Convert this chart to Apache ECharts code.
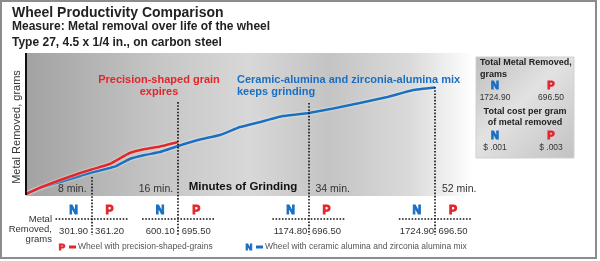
<!DOCTYPE html>
<html>
<head>
<meta charset="utf-8">
<script src="https://cdn.jsdelivr.net/npm/echarts@6/dist/echarts.min.js"></script>
<style>
html, body { margin: 0; padding: 0; background: #fff; }
#main { width: 600px; height: 261px; }
</style>
</head>
<body>
<div id="main"></div>
<script>
// positions along the grinding run (chart steps) and grams removed
var stepN = [0, 1.5, 3.6, 5.7, 6.9, 8.8, 9.4, 10.9, 12.5, 14.1, 16, 18.3, 20.4, 22.5, 24.6, 27, 29.7, 32.3, 35.1, 38, 40.7, 43];
var gramsN = [0, 98, 196, 294, 351, 424, 449, 571, 636, 685, 783, 889, 962, 1093, 1174, 1272, 1321, 1394, 1484, 1582, 1696, 1737];
var stepP = [0, 1.5, 3.6, 5.7, 6.9, 8.8, 10.9, 12.5, 14.1, 16];
var gramsP = [0, 106, 228, 343, 400, 489, 669, 734, 775, 848];

// checkpoints
var markStep = [6.9, 16, 29.7, 43];
var markLabel = ['8 min.', '16 min.', '34 min.', '52 min.'];
var markTop = [277, 1500, 1484, 1745];
var tableN = ['301.90', '600.10', '1174.80', '1724.90'];
var tableP = ['361.20', '695.50', '696.50', '696.50'];

// summary box
var totalN = '1724.90', totalP = '696.50';
var costN = '$ .001', costP = '$ .003';

var BLUE = '#1b6fc2';
var RED = '#e1262c';
var TXT = '#333';

var chart = echarts.init(document.getElementById('main'));

function pairs(xs, ys) {
    return xs.map(function (x, i) { return [x, ys[i]]; });
}

var dotted = { color: '#111', width: 1.6, type: [1.6, 1.6] };
var markLines = [
    [{ coord: [0, -16], lineStyle: { color: '#111', width: 2, type: 'solid' } }, { coord: [0, 2300] }]
];
markStep.forEach(function (s, i) {
    markLines.push([{ coord: [s, markTop[i]], lineStyle: dotted }, { coord: [s, -669] }]);
    markLines.push([{ coord: [s - 3.8, -408], lineStyle: dotted }, { coord: [s + 3.8, -408] }]);
});

var option = {
    animation: false,
    grid: { left: 26, top: 53, width: 447, height: 182 },
    xAxis: { type: 'value', min: 0, max: 47, show: false },
    yAxis: { type: 'value', min: -669, max: 2300, show: false },
    series: [
        {
            name: 'N',
            type: 'line',
            data: pairs(stepN, gramsN),
            smooth: 0.1,
            showSymbol: false,
            z: 3,
            lineStyle: { color: BLUE, width: 2.5, shadowColor: 'rgba(255,255,235,0.95)', shadowBlur: 2 },
            markArea: {
                silent: true,
                data: [[
                    {
                        coord: [0, -33],
                        itemStyle: {
                            color: {
                                type: 'linear', x: 0, y: 0, x2: 1, y2: 0,
                                colorStops: [
                                    { offset: 0, color: '#a2a2a2' },
                                    { offset: 0.3, color: '#c6c6c6' },
                                    { offset: 0.5, color: '#d8d8d8' },
                                    { offset: 0.68, color: '#c4c4c4' },
                                    { offset: 0.86, color: '#dadada' },
                                    { offset: 0.94, color: '#efefef' },
                                    { offset: 1, color: '#ffffff' }
                                ]
                            }
                        }
                    },
                    { coord: [47, 2300] }
                ]]
            },
            markLine: {
                silent: true,
                symbol: 'none',
                label: { show: false },
                data: markLines
            }
        },
        {
            name: 'P',
            type: 'line',
            data: pairs(stepP, gramsP),
            smooth: 0.1,
            showSymbol: false,
            z: 4,
            lineStyle: { color: RED, width: 2.5, shadowColor: 'rgba(255,255,235,0.95)', shadowBlur: 2 }
        }
    ]
};
chart.setOption(option);

function txt(text, x, y, font, fill, align, extra) {
    var o = {
        type: 'text', x: x, y: y, z: 10,
        style: { text: text, font: font, fill: fill, align: align || 'left', verticalAlign: 'middle' }
    };
    if (extra) { for (var k in extra) o.style[k] = extra[k]; }
    return o;
}
function letter(t, x, y, size) {
    var c = t === 'N' ? BLUE : RED;
    return txt(t, x, y, 'bold ' + size + 'px "Liberation Sans", Arial', c, 'center', { stroke: c, lineWidth: 1 });
}

var g = [];
// frame
g.push({ type: 'rect', z: 0, shape: { x: 1, y: 1, width: 595, height: 257 }, style: { fill: 'none', stroke: '#8c8c8c', lineWidth: 2 } });

// titles
g.push(txt('Wheel Productivity Comparison', 12, 13, 'bold 14px "Liberation Sans", Arial', '#222'));
g.push(txt('Measure: Metal removal over life of the wheel', 12, 27, 'bold 12px "Liberation Sans", Arial', '#222'));
g.push(txt('Type 27, 4.5 x 1/4 in., on carbon steel', 12, 43, 'bold 12px "Liberation Sans", Arial', '#222'));

// y axis name
g.push({
    type: 'text', x: 17, y: 127, rotation: Math.PI / 2, z: 10,
    style: { text: 'Metal Removed, grams', font: '11px "Liberation Sans", Arial', fill: TXT, align: 'center', verticalAlign: 'middle' }
});

// annotations
g.push(txt('Precision-shaped grain', 159, 80, 'bold 11px "Liberation Sans", Arial', RED, 'center'));
g.push(txt('expires', 159, 92, 'bold 11px "Liberation Sans", Arial', RED, 'center'));
g.push(txt('Ceramic-alumina and zirconia-alumina mix', 237, 80, 'bold 11px "Liberation Sans", Arial', BLUE));
g.push(txt('keeps grinding', 237, 92, 'bold 11px "Liberation Sans", Arial', BLUE));
g.push(txt('Minutes of Grinding', 243, 187, 'bold 11.5px "Liberation Sans", Arial', '#111', 'center'));

// table row label
g.push(txt('Metal', 52, 219, '9.5px "Liberation Sans", Arial', TXT, 'right'));
g.push(txt('Removed,', 52, 229, '9.5px "Liberation Sans", Arial', TXT, 'right'));
g.push(txt('grams', 52, 239, '9.5px "Liberation Sans", Arial', TXT, 'right'));

// checkpoints: minute labels and table
markStep.forEach(function (s, i) {
    var p = chart.convertToPixel({ gridIndex: 0 }, [s, 0]);
    var px = p[0];
    if (i < 2) {
        g.push(txt(markLabel[i], px - 5, 189, '10.5px "Liberation Sans Narrow", Arial', TXT, 'right'));
    } else {
        g.push(txt(markLabel[i], px + 7, 189, '10.5px "Liberation Sans Narrow", Arial', TXT, 'left'));
    }
    g.push(letter('N', px - 18, 211, 12));
    g.push(letter('P', px + 18, 211, 12));
    g.push(txt(tableN[i], px - 18, 231, '9.5px "Liberation Sans", Arial', TXT, 'center'));
    g.push(txt(tableP[i], px + 18, 231, '9.5px "Liberation Sans", Arial', TXT, 'center'));
});

// legend line
g.push(letter('P', 62, 247, 9.5));
g.push({ type: 'rect', z: 10, shape: { x: 69, y: 245.5, width: 7, height: 3 }, style: { fill: RED } });
g.push(txt('Wheel with precision-shaped-grains', 78, 247, '8.5px "Liberation Sans", Arial', '#555'));
g.push(letter('N', 249, 247, 9.5));
g.push({ type: 'rect', z: 10, shape: { x: 256, y: 245.5, width: 7, height: 3 }, style: { fill: BLUE } });
g.push(txt('Wheel with ceramic alumina and zirconia alumina mix', 265, 247, '8.5px "Liberation Sans", Arial', '#555'));

// summary box
g.push({
    type: 'rect', z: 5, shape: { x: 476, y: 57, width: 98, height: 101 },
    style: {
        stroke: '#d0d0d0', lineWidth: 1,
        fill: {
            type: 'linear', x: 0, y: 0, x2: 1, y2: 1,
            colorStops: [
                { offset: 0, color: '#bdbdbd' },
                { offset: 0.45, color: '#e2e2e2' },
                { offset: 1, color: '#c2c2c2' }
            ]
        }
    }
});
g.push(txt('Total Metal Removed,', 480, 63, 'bold 9px "Liberation Sans", Arial', '#222'));
g.push(txt('grams', 480, 75, 'bold 9px "Liberation Sans", Arial', '#222'));
g.push(letter('N', 495, 86, 11));
g.push(letter('P', 551, 86, 11));
g.push(txt(totalN, 495, 98, '8.5px "Liberation Sans", Arial', TXT, 'center'));
g.push(txt(totalP, 551, 98, '8.5px "Liberation Sans", Arial', TXT, 'center'));
g.push(txt('Total cost per gram', 525, 112, 'bold 9px "Liberation Sans", Arial', '#222', 'center'));
g.push(txt('of metal removed', 525, 123, 'bold 9px "Liberation Sans", Arial', '#222', 'center'));
g.push(letter('N', 495, 136, 11));
g.push(letter('P', 551, 136, 11));
g.push(txt(costN, 495, 148, '8.5px "Liberation Sans", Arial', TXT, 'center'));
g.push(txt(costP, 551, 148, '8.5px "Liberation Sans", Arial', TXT, 'center'));

chart.setOption({ graphic: g });
</script>
</body>
</html>
